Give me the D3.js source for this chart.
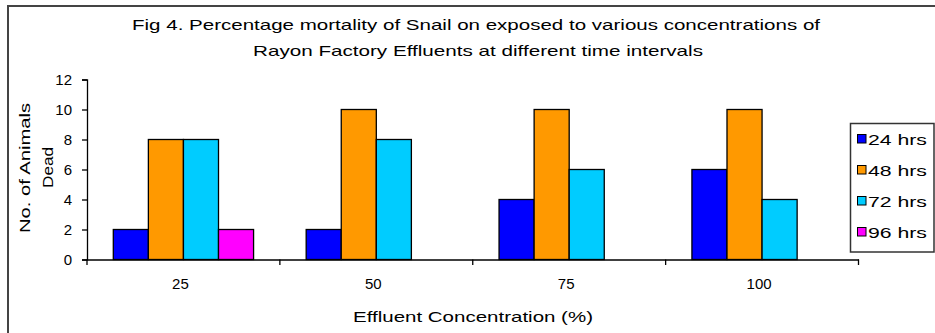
<!DOCTYPE html>
<html><head><meta charset="utf-8">
<script src="https://cdn.jsdelivr.net/npm/d3@7"></script>
<style>body{margin:0;background:#fff}svg{display:block}</style>
</head><body><svg id="c" width="935" height="333"></svg>
<script>
const categories = ["25","50","75","100"];
const seriesNames = ["24 hrs","48 hrs","72 hrs","96 hrs"];
const hrs24 = [2,2,4,6];
const hrs48 = [8,10,10,10];
const hrs72 = [8,8,6,4];
const hrs96 = [2,0,0,0];
const yTicks = [0,2,4,6,8,10,12];
const colors = ["#0000FF","#FF9900","#00CCFF","#FF00FF"];
const titleLines = ["Fig 4. Percentage mortality of  Snail on exposed to various concentrations of","Rayon Factory Effluents at different time intervals"];

const series = [hrs24,hrs48,hrs72,hrs96];
const svg = d3.select("#c");
const font = "Arial, 'Liberation Sans', sans-serif";

// outer border
svg.append("path").attr("d","M8,340 L8,6 L940,6").attr("fill","none").attr("stroke","#444").attr("stroke-width",2);

// title
svg.append("text").attr("x",476).attr("y",30).attr("text-anchor","middle").attr("font-family",font)
  .attr("font-size",15).attr("textLength",688).attr("lengthAdjust","spacingAndGlyphs").text(titleLines[0]);
svg.append("text").attr("x",478).attr("y",56).attr("text-anchor","middle").attr("font-family",font)
  .attr("font-size",15).attr("textLength",450).attr("lengthAdjust","spacingAndGlyphs").text(titleLines[1]);

const x0 = d3.scaleBand().domain(categories).range([87,858.5]).paddingInner(0).paddingOuter(0);
const inner = d3.scaleBand().domain(d3.range(4)).range([0,x0.bandwidth()]).paddingInner(0).paddingOuter(0.75);
const y = d3.scaleLinear().domain([0,12]).range([259.5,79.5]);

// bars
categories.forEach((c,ci)=>{
  series.forEach((s,si)=>{
    if(s[ci]<=0) return;
    svg.append("rect").attr("x",x0(c)+inner(si)).attr("y",y(s[ci]))
      .attr("width",inner.bandwidth()).attr("height",y(0)-y(s[ci]))
      .attr("fill",colors[si]).attr("stroke","#000").attr("stroke-width",1.3);
  });
});

// y axis
const ya = svg.append("g").attr("transform","translate(87,0)")
  .call(d3.axisLeft(y).tickValues(yTicks).tickSize(5).tickPadding(10));
ya.selectAll("text").attr("font-family",font).attr("font-size",15).attr("fill","#000").attr("dy","0.36em");
ya.select(".domain").attr("stroke","#000").attr("stroke-width",1.3);
ya.selectAll(".tick line").attr("stroke","#000").attr("stroke-width",1.3);

// x axis
const xa = svg.append("g").attr("transform","translate(0,259.5)")
  .call(d3.axisBottom(x0).tickSize(0).tickPadding(19));
xa.select(".domain").attr("stroke","#000").attr("stroke-width",1.3);
xa.selectAll("text").attr("font-family",font).attr("font-size",15).attr("fill","#000").attr("dx",-3);
const bounds = categories.map(c=>x0(c)).concat([x0.range()[1]]);
svg.selectAll("line.xt").data(bounds).enter().append("line")
  .attr("x1",d=>d).attr("x2",d=>d).attr("y1",259.5).attr("y2",265).attr("stroke","#000").attr("stroke-width",1.3);

// axis titles
svg.append("text").attr("x",473).attr("y",322).attr("text-anchor","middle").attr("font-family",font)
  .attr("font-size",15).attr("textLength",240).attr("lengthAdjust","spacingAndGlyphs").text("Effluent Concentration (%)");
svg.append("text").attr("transform","translate(30,168) rotate(-90)").attr("text-anchor","middle")
  .attr("font-family",font).attr("font-size",15).attr("textLength",130).attr("lengthAdjust","spacingAndGlyphs").text("No. of Animals");
svg.append("text").attr("transform","translate(53,167.5) rotate(-90)").attr("text-anchor","middle")
  .attr("font-family",font).attr("font-size",15).attr("textLength",41).attr("lengthAdjust","spacingAndGlyphs").text("Dead");

// legend
const lg = svg.append("g");
lg.append("rect").attr("x",850.5).attr("y",123.5).attr("width",83.5).attr("height",128.5)
  .attr("fill","#fff").attr("stroke","#333").attr("stroke-width",1.5);
seriesNames.forEach((n,i)=>{
  const cy = 139 + i*31;
  lg.append("rect").attr("x",857.5).attr("y",cy-4.5).attr("width",8.5).attr("height",8.5)
    .attr("fill",colors[i]).attr("stroke","#000").attr("stroke-width",1);
  lg.append("text").attr("x",868).attr("y",cy+6).attr("font-family",font).attr("font-size",15)
    .attr("textLength",59).attr("lengthAdjust","spacingAndGlyphs").text(n);
});
</script></body></html>
